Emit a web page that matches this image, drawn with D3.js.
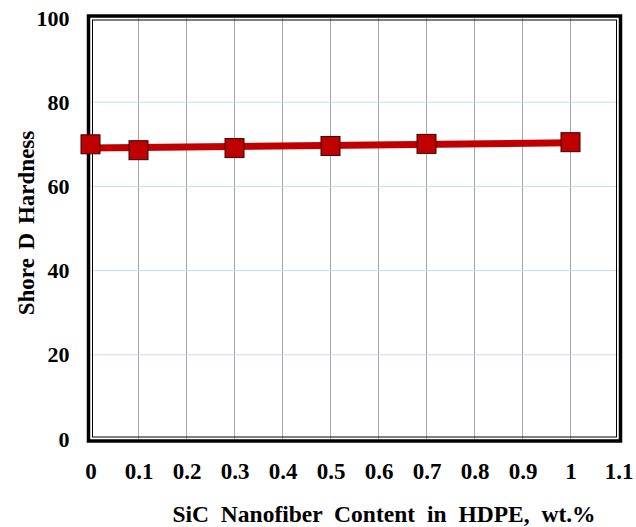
<!DOCTYPE html>
<html>
<head>
<meta charset="utf-8">
<script src="https://cdn.jsdelivr.net/npm/d3@7"></script>
<style>
  body { margin: 0; background: #fff; }
  text { font-family: "Liberation Serif", "Times New Roman", serif; font-weight: bold; fill: #000; }
</style>
</head>
<body>
<div id="chart"></div>
<script>
// data
const sicContent = [0, 0.1, 0.3, 0.5, 0.7, 1.0];
const hardness = [70.0, 68.6, 69.1, 69.6, 70.1, 70.5];
const xTicks = [0, 0.1, 0.2, 0.3, 0.4, 0.5, 0.6, 0.7, 0.8, 0.9, 1, 1.1];
const yTicks = [0, 20, 40, 60, 80, 100];

const width = 636, height = 527;
const plotL = 90.5, plotR = 618.5, plotT = 18, plotB = 439;

const svg = d3.select("#chart").append("svg")
  .attr("width", width)
  .attr("height", height);

const x = d3.scaleLinear().domain([0, 1.1]).range([plotL, plotR]);
const y = d3.scaleLinear().domain([0, 100]).range([plotB, plotT]);

// gridlines
svg.append("g")
  .selectAll("line")
  .data(xTicks.slice(1, -1))
  .join("line")
    .attr("x1", d => x(d)).attr("x2", d => x(d))
    .attr("y1", plotT).attr("y2", plotB)
    .attr("stroke", "#a6a6a6")
    .attr("stroke-width", 1);

svg.append("g")
  .selectAll("line")
  .data(yTicks.slice(1, -1))
  .join("line")
    .attr("x1", plotL).attr("x2", plotR)
    .attr("y1", d => y(d)).attr("y2", d => y(d))
    .attr("stroke", "#c5dcf2")
    .attr("stroke-width", 1);

// double frame: thick outside, thin inside
svg.append("rect")
  .attr("x", plotL - 2).attr("y", plotT - 2)
  .attr("width", plotR - plotL + 4).attr("height", plotB - plotT + 4)
  .attr("fill", "none").attr("stroke", "#000").attr("stroke-width", 3.5);
svg.append("rect")
  .attr("x", plotL + 2).attr("y", plotT + 2)
  .attr("width", plotR - plotL - 4).attr("height", plotB - plotT - 4)
  .attr("fill", "none").attr("stroke", "#000").attr("stroke-width", 1);

// tick labels via d3 axes (no domain / tick marks)
const xAxis = svg.append("g")
  .attr("transform", `translate(0,${plotB})`)
  .call(d3.axisBottom(x).tickValues(xTicks).tickSize(0).tickPadding(24).tickFormat(d3.format("")));
xAxis.select(".domain").remove();
xAxis.selectAll("text").style("font-size", "23px");

const yAxis = svg.append("g")
  .attr("transform", `translate(${plotL},0)`)
  .call(d3.axisLeft(y).tickValues(yTicks).tickSize(0).tickPadding(21));
yAxis.select(".domain").remove();
yAxis.selectAll("text").style("font-size", "22px");
xAxis.attr("font-family", null).attr("font-size", null);
yAxis.attr("font-family", null).attr("font-size", null);

// linear trend line through the points
const mx = d3.mean(sicContent), my = d3.mean(hardness);
const slope = d3.sum(sicContent, (d, i) => (d - mx) * (hardness[i] - my)) /
              d3.sum(sicContent, d => (d - mx) * (d - mx));
const icpt = my - slope * mx;
const xr = d3.extent(sicContent);

svg.append("line")
  .attr("x1", x(xr[0])).attr("y1", y(icpt + slope * xr[0]))
  .attr("x2", x(xr[1])).attr("y2", y(icpt + slope * xr[1]))
  .attr("stroke", "#c00000")
  .attr("stroke-width", 7);

// markers
const ms = 19;
svg.append("g")
  .selectAll("rect")
  .data(sicContent)
  .join("rect")
    .attr("x", d => x(d) - ms / 2)
    .attr("y", (d, i) => y(hardness[i]) - ms / 2)
    .attr("width", ms).attr("height", ms)
    .attr("fill", "#c00000")
    .attr("stroke", "#3a0000")
    .attr("stroke-width", 1);

// axis titles
svg.append("text")
  .attr("x", 384).attr("y", 522)
  .attr("text-anchor", "middle")
  .style("font-size", "23.5px")
  .attr("word-spacing", "6")
  .text("SiC Nanofiber Content in HDPE, wt.%");

svg.append("text")
  .attr("transform", "translate(34,223) rotate(-90)")
  .attr("text-anchor", "middle")
  .style("font-size", "23px")
  .attr("word-spacing", "3")
  .text("Shore D Hardness");
</script>
</body>
</html>
